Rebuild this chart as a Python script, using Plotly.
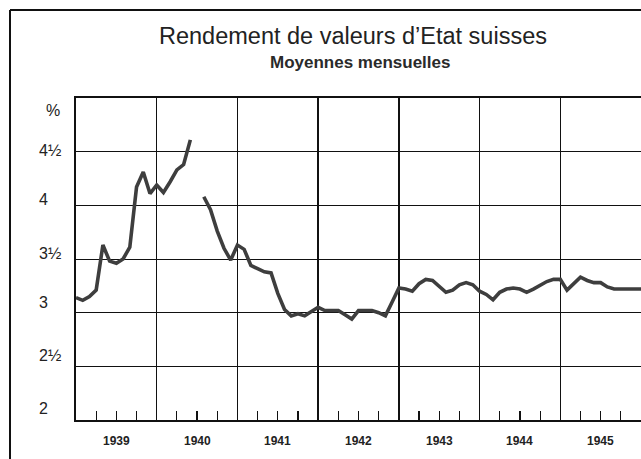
import plotly.graph_objects as go

# ---- data (monthly averages, %) ----
years = [1939, 1940, 1941, 1942, 1943, 1944, 1945, 1946]
yield_1939 = [3.14, 3.115, 3.15, 3.21, 3.63, 3.48, 3.46, 3.50, 3.61, 4.17, 4.31, 4.11]
yield_1940 = [4.19, 4.12, 4.22, 4.33, 4.38, 4.61, None, 4.08, 3.96, 3.76, 3.60, 3.49]
yield_1941 = [3.63, 3.59, 3.44, 3.41, 3.38, 3.37, 3.18, 3.03, 2.97, 2.99, 2.97, 3.01]
yield_1942 = [3.05, 3.02, 3.02, 3.02, 2.98, 2.94, 3.02, 3.02, 3.02, 3.00, 2.97, 3.10]
yield_1943 = [3.23, 3.22, 3.20, 3.27, 3.31, 3.30, 3.25, 3.19, 3.21, 3.26, 3.28, 3.26]
yield_1944 = [3.20, 3.17, 3.12, 3.19, 3.22, 3.23, 3.22, 3.19, 3.22, 3.26, 3.29, 3.31]
yield_1945 = [3.31, 3.21, 3.27, 3.33, 3.30, 3.28, 3.28, 3.24, 3.22, 3.22, 3.22, 3.22]
yield_1946 = [3.22]

year_labels = ["1939", "1940", "1941", "1942", "1943", "1944", "1945"]
y_tick_values = [5, 4.5, 4, 3.5, 3, 2.5, 2]
y_tick_labels = ["%", "4½", "4", "3½", "3", "2½", "2"]

title_text = "Rendement de valeurs d’Etat suisses"
subtitle_text = "Moyennes mensuelles"

# ---- build series ----
series = [yield_1939, yield_1940, yield_1941, yield_1942, yield_1943,
          yield_1944, yield_1945, yield_1946]
xs, ys = [], []
for yr, vals in zip(years, series):
    for m, v in enumerate(vals):
        xs.append(yr + m / 12.0)
        ys.append(v)

FONT = "Liberation Sans, Arial, sans-serif"
W, H = 641, 459
L, R, T, B = 76, 0, 98, 39
PW, PH = W - L - R, H - T - B

def px_x(p):
    return (p - L) / PW

def px_y(p):
    return (H - B - p) / PH

fig = go.Figure()
fig.add_trace(go.Scatter(
    x=xs, y=ys, mode="lines", connectgaps=False,
    line=dict(color="#3e3e3e", width=3.6), hoverinfo="skip", showlegend=False,
))

quarters = [y + q for y in range(1939, 1946) for q in (0.25, 0.5, 0.75)]

fig.update_xaxes(
    range=[1939, 1946], showgrid=False, zeroline=False,
    tickmode="array", tickvals=quarters, ticks="inside", ticklen=9,
    tickwidth=1.2, tickcolor="#111", showticklabels=False,
    showline=True, linecolor="#111", linewidth=1.8, mirror=True,
    minor=dict(tick0=1939, dtick=1, showgrid=True, gridcolor="#111",
               gridwidth=1.3, ticks=""),
)
fig.update_yaxes(
    range=[2, 5], tickmode="array", tickvals=[2.5, 3, 3.5, 4, 4.5],
    showgrid=True, gridcolor="#111", gridwidth=1, zeroline=False,
    showticklabels=False, ticks="", showline=True, linecolor="#111",
    linewidth=1.6,
)

annotations = []
y_shifts = [-12, 1, 6, 6, 10, 11, 12]
x_shifts = [7, 0, 0, 0, 0, 0, 0]
for v, lab, ysh, xsh in zip(y_tick_values, y_tick_labels, y_shifts, x_shifts):
    annotations.append(dict(
        x=px_x(37), xref="paper", y=v, yref="y", text=lab, showarrow=False,
        xanchor="left", yanchor="middle", yshift=ysh, xshift=xsh,
        font=dict(family=FONT, size=16, color="#222"),
    ))
for i, lab in enumerate(year_labels):
    annotations.append(dict(
        x=1939 + i + 0.5, xref="x", y=0, yref="paper", text="<b>%s</b>" % lab,
        showarrow=False, xanchor="center", yanchor="middle", yshift=-21,
        font=dict(family=FONT, size=12, color="#222"),
    ))
annotations.append(dict(
    x=px_x(353), xref="paper", y=px_y(36), yref="paper", text=title_text,
    showarrow=False, xanchor="center", yanchor="middle",
    font=dict(family=FONT, size=23.5, color="#222"),
))
annotations.append(dict(
    x=px_x(360), xref="paper", y=px_y(62), yref="paper",
    text="<b>%s</b>" % subtitle_text,
    showarrow=False, xanchor="center", yanchor="middle",
    font=dict(family=FONT, size=17, color="#2a2a2a"),
))

shapes = [
    dict(type="line", xref="paper", yref="paper", x0=px_x(10), x1=px_x(10),
         y0=px_y(10), y1=px_y(480), line=dict(color="#111", width=2)),
    dict(type="line", xref="paper", yref="paper", x0=px_x(10), x1=px_x(700),
         y0=px_y(10), y1=px_y(10), line=dict(color="#111", width=2)),
]

fig.update_layout(
    width=W, height=H, margin=dict(l=L, r=R, t=T, b=B, autoexpand=False),
    paper_bgcolor="white", plot_bgcolor="white",
    annotations=annotations, shapes=shapes, showlegend=False,
)

fig.write_html(
    "out.html",
    config={"displayModeBar": False, "staticPlot": True},
    post_script="document.body.style.margin='0';document.body.style.padding='0';",
)
